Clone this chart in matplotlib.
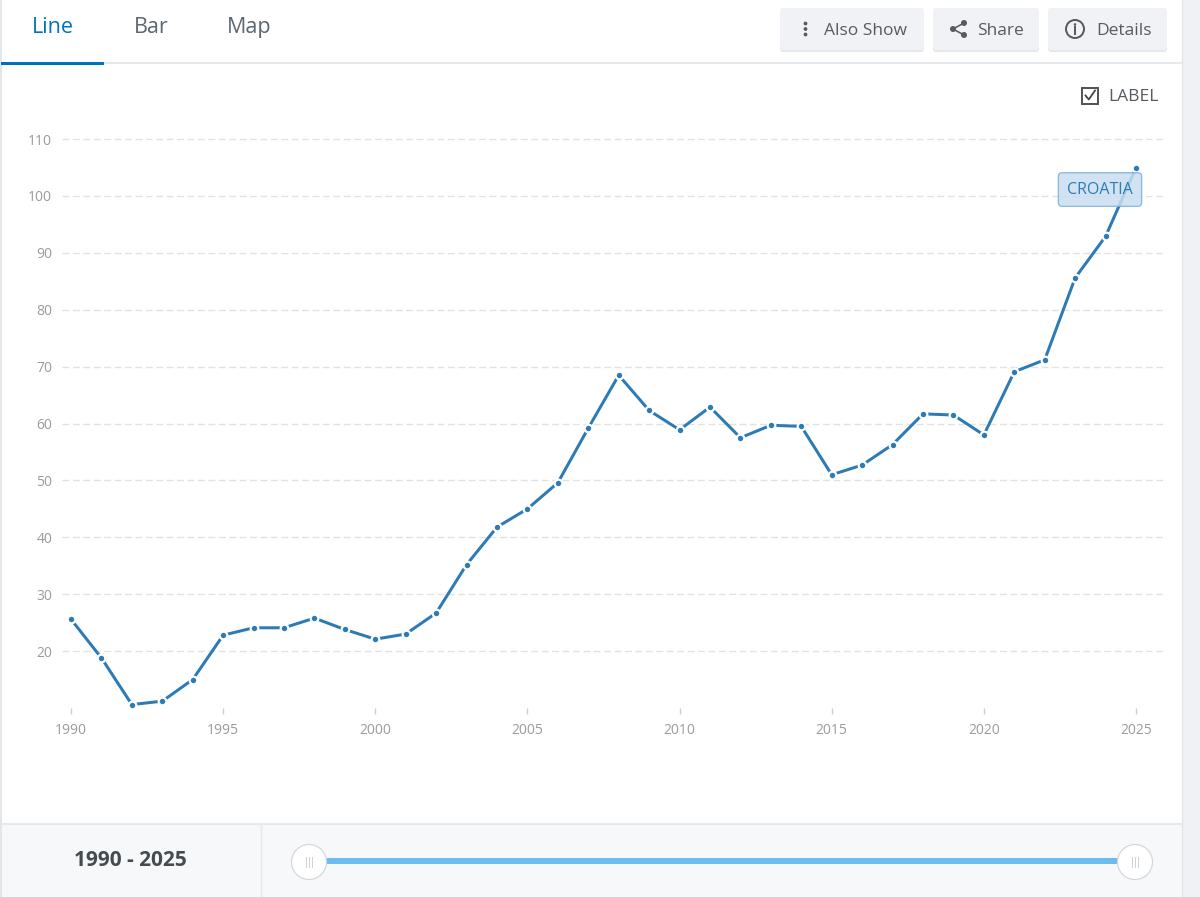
import matplotlib
matplotlib.use('Agg')
import matplotlib.pyplot as plt
from matplotlib.patches import Rectangle, FancyBboxPatch, Circle
from matplotlib.lines import Line2D

plt.rcParams['font.family'] = ['Open Sans', 'DejaVu Sans']

# data
years = list(range(1990, 2026))
values = [25.6, 18.8, 10.6, 11.2, 15.0, 22.8, 24.1, 24.1, 25.8, 23.8,
          22.1, 23.0, 26.7, 35.2, 41.8, 45.0, 49.6, 59.2, 68.5, 62.3,
          58.9, 62.9, 57.5, 59.7, 59.5, 51.0, 52.7, 56.3, 61.7, 61.5,
          58.0, 69.1, 71.2, 85.6, 92.9, 105.0]
country = 'CROATIA'
y_ticks = [20, 30, 40, 50, 60, 70, 80, 90, 100, 110]
x_ticks = [1990, 1995, 2000, 2005, 2010, 2015, 2020, 2025]
tabs = ['Line', 'Bar', 'Map']
buttons = ['Also Show', 'Share', 'Details']

LINE = '#2c7bb6'
UI_TEXT = '#555b61'
W, H = 1200, 897
PX = 0.72  # px -> pt at dpi 100

fig = plt.figure(figsize=(W / 100, H / 100), dpi=100)
fig.patch.set_facecolor('white')

# pixel-space overlay for the page chrome
ui = fig.add_axes([0, 0, 1, 1], zorder=0)
ui.set_xlim(0, W)
ui.set_ylim(H, 0)
ui.axis('off')

# page borders
ui.add_patch(Rectangle((1182, 0), 18, H, color='#f0f1f5', lw=0))
ui.add_line(Line2D([1182, 1182], [0, H], color='#e3e6ea', lw=1))
ui.add_line(Line2D([0.5, 0.5], [0, H], color='#e3e6ea', lw=1.5))

# tabs
ui.add_line(Line2D([0, 1182], [63.5, 63.5], color='#e6e8eb', lw=1.5))
ui.add_patch(Rectangle((1, 62), 103, 3.2, color='#0071bc', lw=0, zorder=4))
for name, cx in zip(tabs, [52.5, 151, 249.5]):
    ui.text(cx, 33, name, ha='center', va='baseline', fontsize=15.5,
            color='#0071bc' if name == 'Line' else '#5c6670')

# buttons
btn_boxes = [(780, 924), (933, 1039), (1048, 1167)]
text_x = [824, 977, 1096]
for (x0, x1), label, tx in zip(btn_boxes, buttons, text_x):
    ui.add_patch(FancyBboxPatch((x0, 10), x1 - x0, 42,
                                boxstyle='round,pad=0,rounding_size=3',
                                fc='#e4e7eb', ec='none'))
    ui.add_patch(FancyBboxPatch((x0, 8), x1 - x0, 42,
                                boxstyle='round,pad=0,rounding_size=3',
                                fc='#f0f2f5', ec='none'))
    ui.text(tx, 35, label, ha='left', va='baseline', fontsize=12.5,
            color=UI_TEXT)

# kebab icon
for dy in (23.5, 29, 34.5):
    ui.add_patch(Circle((805.5, dy), 1.9, color=UI_TEXT, lw=0))
# share icon
ui.add_line(Line2D([964, 953, 964], [23, 29, 35], color=UI_TEXT, lw=1.6 * PX))
for cx, cy in [(964, 23), (953, 29), (964, 35)]:
    ui.add_patch(Circle((cx, cy), 3, color=UI_TEXT, lw=0))
# info icon
ui.add_patch(Circle((1075, 29), 9, fc='none', ec=UI_TEXT, lw=2 * PX))
ui.add_patch(Circle((1075, 24.5), 1.3, color=UI_TEXT, lw=0))
ui.add_line(Line2D([1075, 1075], [27.5, 34], color=UI_TEXT, lw=2 * PX))

# label checkbox
ui.add_patch(Rectangle((1082, 88), 16, 16, fc='white', ec='#555555', lw=2 * PX))
ui.add_line(Line2D([1085.5, 1088.8, 1095], [95.5, 99.5, 90.5],
                   color='#444444', lw=1.8 * PX))
ui.text(1108, 101, 'LABEL', ha='left', va='baseline', fontsize=12.5,
        color=UI_TEXT)

# bottom range panel
ui.add_patch(Rectangle((1, 824), 1181, H - 824, color='#f7f8fa', lw=0))
ui.add_line(Line2D([0, 1182], [824.5, 824.5], color='#e3e6ea', lw=1.2))
ui.add_line(Line2D([260.5, 260.5], [825, H], color='#e6e8eb', lw=1))
ui.text(130.5, 861, f'{years[0]} - {years[-1]}', ha='center', va='center',
        fontsize=15, fontweight='bold', color='#454b50')

# slider (handle positions from year range)
s0, s1 = 309, 1135
def slider_x(yr):
    return s0 + (yr - years[0]) / (years[-1] - years[0]) * (s1 - s0)
hx = [slider_x(years[0]), slider_x(years[-1])]
ui.add_patch(Rectangle((hx[0], 858.5), hx[1] - hx[0], 6, color='#6cbdee', lw=0))
for x in hx:
    ui.add_patch(Circle((x, 862), 17.5, fc='white', ec='#d3d7db', lw=1.2 * PX))
    for dx in (-3, 0, 3):
        ui.add_line(Line2D([x + dx, x + dx], [857, 867], color='#cfd3d7',
                           lw=1 * PX))

# chart axes, placed in pixel units
px_per_year = 30.43
px_per_unit = 5.689
left_px, right_px, top_px, bot_px = 62, 1167, 127.6, 708
ax = fig.add_axes([left_px / W, 1 - bot_px / H, (right_px - left_px) / W,
                   (bot_px - top_px) / H], zorder=1)
ax.patch.set_alpha(0)
ax.set_xlim(years[0] - (71 - left_px) / px_per_year,
            years[-1] + (right_px - 1136) / px_per_year)
ax.set_ylim(10, 10 + (bot_px - top_px) / px_per_unit)

for s in ax.spines.values():
    s.set_visible(False)
ax.set_yticks(y_ticks)
ax.set_xticks(x_ticks)
ax.set_xticklabels([str(x) for x in x_ticks])
ax.tick_params(axis='y', length=0, pad=7, labelsize=10, labelcolor='#9e9a98')
ax.tick_params(axis='x', length=4.5, width=1, color='#cccccc', pad=6,
               labelsize=10, labelcolor='#9e9a98')
ax.grid(axis='y', color='#e2e2e2', lw=1, ls=(0, (5, 2.5)))
ax.set_axisbelow(True)

ax.plot(years, values, color=LINE, lw=3 * PX, marker='o', ms=5.5,
        mfc=LINE, mec='white', mew=1.6, clip_on=False, zorder=3)

ax.annotate(country, xy=(years[-1], values[-1]), xytext=(-36, -22),
            textcoords='offset pixels', ha='center', va='center',
            fontsize=11.5, color='#2c7bb6', zorder=5,
            bbox=dict(boxstyle='round,pad=0.55,rounding_size=0.25',
                      fc='#c9def0', ec='#7fb0d6', lw=1, alpha=0.85))

fig.savefig('out.png', dpi=100)
